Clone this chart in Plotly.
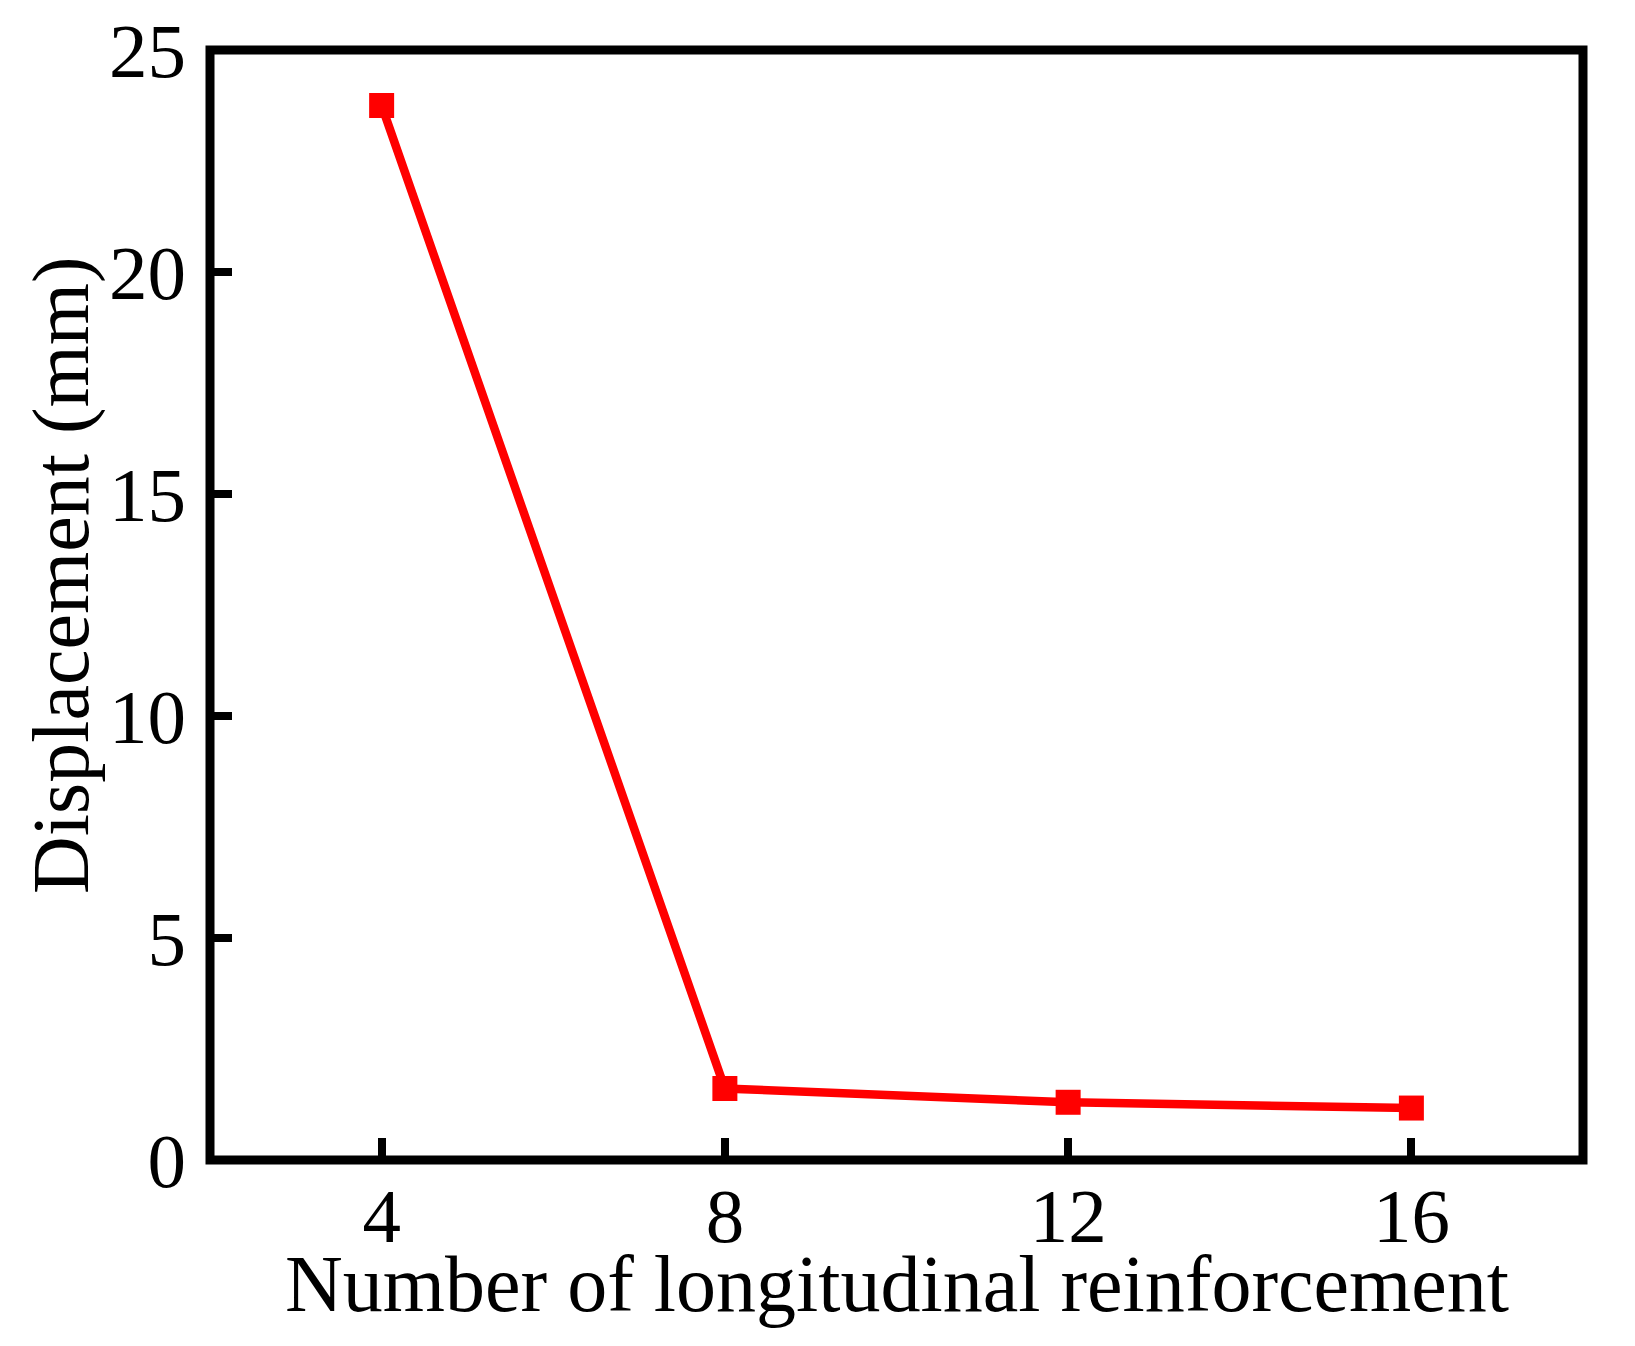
import plotly.graph_objects as go

# Data
bars_count = [4, 8, 12, 16]
displacement_mm = [23.75, 1.61, 1.30, 1.17]

x_ticks = [4, 8, 12, 16]
y_ticks = [0, 5, 10, 15, 20, 25]

x_title = "Number of longitudinal reinforcement"
y_title = "Displacement (mm)"

FONT = "Liberation Serif"
FS = 77
TFS = 80

# the page body has an 8px default margin: compensate so the plot area lands where the reference has it
fig = go.Figure()
fig.add_trace(go.Scatter(
    x=bars_count, y=displacement_mm,
    mode="lines+markers",
    line=dict(color="#ff0000", width=8.5),
    marker=dict(symbol="square", size=25, color="#ff0000"),
    showlegend=False,
))

fig.update_layout(
    width=1627, height=1338,
    margin=dict(l=202, r=52, t=42, b=186),
    paper_bgcolor="white", plot_bgcolor="white",
    font=dict(family=FONT, size=FS, color="black"),
    xaxis=dict(
        range=[2, 18], tickvals=x_ticks, ticktext=[str(v) for v in x_ticks],
        showgrid=False, zeroline=False, showline=False, automargin=False,
        ticks="inside", ticklen=22, tickwidth=8, tickcolor="black",
        ticklabelstandoff=4, ticklabeloverflow="allow",
    ),
    yaxis=dict(
        range=[0, 25], tickvals=y_ticks, ticktext=[str(v) for v in y_ticks],
        showgrid=False, zeroline=False, showline=False, automargin=False,
        ticks="inside", ticklen=22, tickwidth=8, tickcolor="black",
        ticklabelstandoff=23, ticklabeloverflow="allow",
    ),
    shapes=[dict(type="rect", xref="paper", yref="paper", x0=0, x1=1, y0=0, y1=1,
                 line=dict(color="black", width=9), layer="above")],
    annotations=[
        dict(text=y_title, textangle=-90,
             xref="paper", yref="paper", x=-0.1086, y=0.527,
             xanchor="center", yanchor="middle", showarrow=False,
             font=dict(family=FONT, size=TFS, color="black")),
        dict(text=x_title,
             xref="paper", yref="paper", x=0.5, y=-0.1115,
             xanchor="center", yanchor="middle", showarrow=False,
             font=dict(family=FONT, size=TFS, color="black")),
    ],
)

fig.write_html("out.html")
